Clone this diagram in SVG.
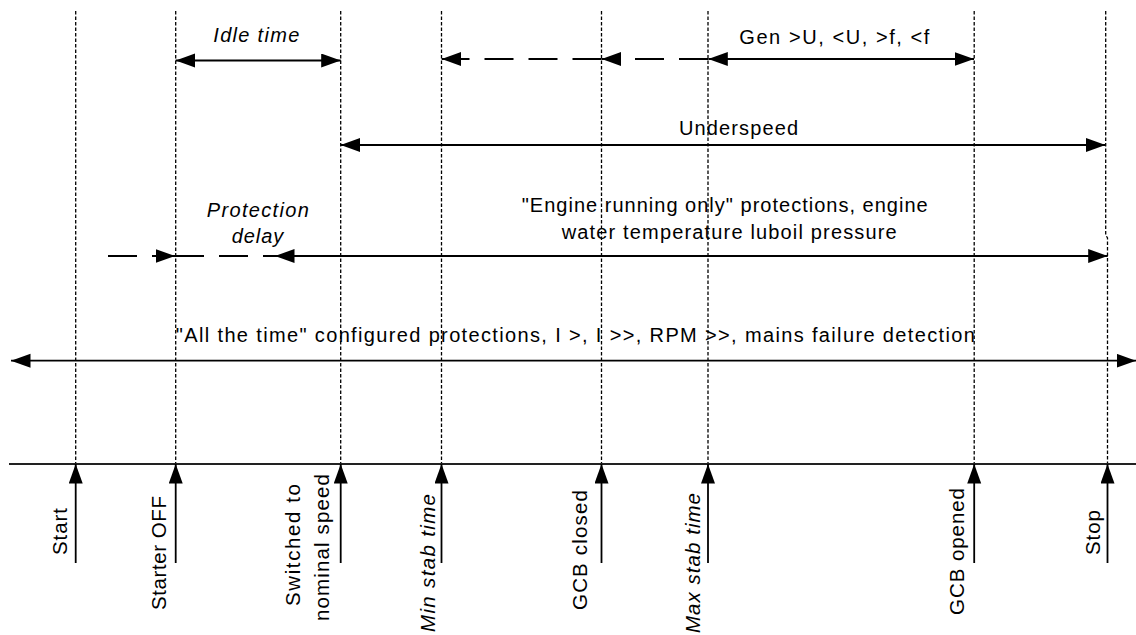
<svg xmlns="http://www.w3.org/2000/svg" width="1136" height="635" viewBox="0 0 1136 635">
<style>
.vl{stroke:#000;stroke-width:1.3;stroke-dasharray:3.5 2;fill:none}
.ar{stroke:#000;stroke-width:1.8;fill:none}
.dash{stroke:#000;stroke-width:1.8;fill:none;stroke-dasharray:29 15}
.base{stroke:#222;stroke-width:2.2;fill:none}
text{font-family:"Liberation Sans",Arial,sans-serif;fill:#000}
.h{font-size:20px;text-anchor:middle}
.it{font-size:20px;font-style:italic;text-anchor:middle}
.r{font-size:20.5px;text-anchor:middle}
.ri{font-size:20.5px;font-style:italic;text-anchor:middle}
</style>
<defs>
<marker id="ah" markerUnits="userSpaceOnUse" markerWidth="21" markerHeight="15" refX="19.5" refY="7" orient="auto-start-reverse" viewBox="0 0 21 15">
<path d="M0,0 L19.5,7 L0,14 z" fill="#000"/>
</marker>
</defs>
<rect width="1136" height="635" fill="#fff"/>

<g id="guides">
<line class="vl" x1="75.7" y1="11" x2="75.7" y2="464"/>
<line class="vl" x1="175.7" y1="11" x2="175.7" y2="464"/>
<line class="vl" x1="340.7" y1="11" x2="340.7" y2="464"/>
<line class="vl" x1="441.5" y1="11" x2="441.5" y2="464"/>
<line class="vl" x1="601.5" y1="11" x2="601.5" y2="464"/>
<line class="vl" x1="708" y1="11" x2="708" y2="464"/>
<line class="vl" x1="974.2" y1="11" x2="974.2" y2="464"/>
<polyline class="vl" points="1105.7,11 1105.7,235 1107.5,238 1107.5,464"/>
<line class="base" x1="9" y1="464" x2="1136" y2="464"/>
</g>

<g id="connectors">
<line class="ar" x1="175.7" y1="60.5" x2="340.7" y2="60.5" marker-start="url(#ah)" marker-end="url(#ah)"/>
<path class="dash" d="M601.5,59 H441.7" marker-end="url(#ah)"/>
<path class="dash" d="M708,59 H601.7" marker-end="url(#ah)"/>
<line class="ar" x1="708.3" y1="59" x2="974" y2="59" marker-start="url(#ah)" marker-end="url(#ah)"/>
<line class="ar" x1="340.7" y1="145" x2="1105.5" y2="145" marker-start="url(#ah)" marker-end="url(#ah)"/>
<path class="dash" d="M108,256 H175" marker-end="url(#ah)"/>
<path class="dash" d="M175,256 H275"/>
<line class="ar" x1="275" y1="256" x2="1107.7" y2="256" marker-start="url(#ah)" marker-end="url(#ah)"/>
<line class="ar" x1="11" y1="360.7" x2="1136" y2="360.7" marker-start="url(#ah)" marker-end="url(#ah)"/>
<line class="ar" x1="75.7" y1="563" x2="75.7" y2="464" marker-end="url(#ah)"/>
<line class="ar" x1="175.7" y1="563" x2="175.7" y2="464" marker-end="url(#ah)"/>
<line class="ar" x1="340.7" y1="563" x2="340.7" y2="464" marker-end="url(#ah)"/>
<line class="ar" x1="441.5" y1="563" x2="441.5" y2="464" marker-end="url(#ah)"/>
<line class="ar" x1="601.5" y1="563" x2="601.5" y2="464" marker-end="url(#ah)"/>
<line class="ar" x1="708" y1="563" x2="708" y2="464" marker-end="url(#ah)"/>
<line class="ar" x1="974.2" y1="563" x2="974.2" y2="464" marker-end="url(#ah)"/>
<line class="ar" x1="1107.5" y1="563" x2="1107.5" y2="464" marker-end="url(#ah)"/>
</g>

<g id="label-idle"><text class="it" x="256.3" y="42" textLength="86" lengthAdjust="spacing">Idle time</text></g>
<g id="label-gen"><text class="h" x="834.3" y="44.3" textLength="190" lengthAdjust="spacing">Gen &gt;U, &lt;U, &gt;f, &lt;f</text></g>
<g id="label-underspeed"><text class="h" x="738.5" y="135" textLength="119" lengthAdjust="spacing">Underspeed</text></g>
<g id="label-engine">
<text class="h" x="724.7" y="211.7" textLength="406" lengthAdjust="spacing">"Engine running only" protections, engine</text>
<text class="h" x="729.2" y="239.3" textLength="335" lengthAdjust="spacing">water temperature luboil pressure</text>
</g>
<g id="label-protection">
<text class="it" x="257.8" y="216.7" textLength="102" lengthAdjust="spacing">Protection</text>
<text class="it" x="257.5" y="243.3" textLength="51.6" lengthAdjust="spacing">delay</text>
</g>
<g id="label-alltime"><text class="h" x="575.3" y="341.7" textLength="799" lengthAdjust="spacing">"All the time" configured protections, I &gt;, I &gt;&gt;, RPM &gt;&gt;, mains failure detection</text></g>

<g id="ev-start"><text class="r" transform="translate(67,531.5) rotate(-90)" textLength="47" lengthAdjust="spacing">Start</text></g>
<g id="ev-starter-off"><text class="r" transform="translate(166,553) rotate(-90)" textLength="114" lengthAdjust="spacing">Starter OFF</text></g>
<g id="ev-nominal">
<text class="r" transform="translate(299.5,545) rotate(-90)" textLength="122" lengthAdjust="spacing">Switched to</text>
<text class="r" transform="translate(328.5,547.5) rotate(-90)" textLength="147" lengthAdjust="spacing">nominal speed</text>
</g>
<g id="ev-min-stab"><text class="ri" transform="translate(434.5,563) rotate(-90)" textLength="138" lengthAdjust="spacing">Min stab time</text></g>
<g id="ev-gcb-closed"><text class="r" transform="translate(587,550) rotate(-90)" textLength="120" lengthAdjust="spacing">GCB closed</text></g>
<g id="ev-max-stab"><text class="ri" transform="translate(699.5,563) rotate(-90)" textLength="140" lengthAdjust="spacing">Max stab time</text></g>
<g id="ev-gcb-opened"><text class="r" transform="translate(964,551.5) rotate(-90)" textLength="127" lengthAdjust="spacing">GCB opened</text></g>
<g id="ev-stop"><text class="r" transform="translate(1100,532.5) rotate(-90)" textLength="45" lengthAdjust="spacing">Stop</text></g>
</svg>
